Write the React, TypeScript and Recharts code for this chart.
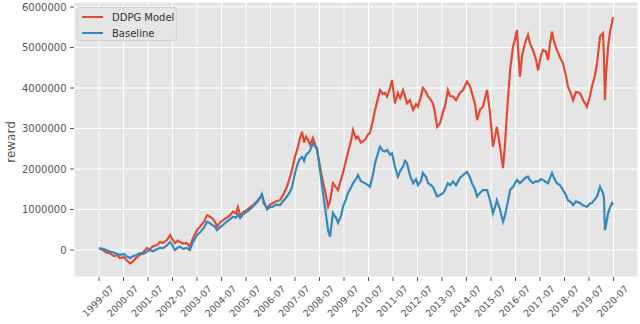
import { LineChart, Line, XAxis, YAxis, CartesianGrid, Legend } from 'recharts';

// Cumulative reward, DDPG agent vs buy-and-hold baseline (~6-week steps)

const RED = '#E24A33';
const BLUE = '#348ABD';
const FONT = '"DejaVu Sans", Verdana, sans-serif';

// decimal years
const years = [
  1999.50, 1999.66, 1999.79, 1999.95, 2000.11, 2000.23, 2000.36, 2000.52,
  2000.64, 2000.77, 2000.89, 2001.01, 2001.17, 2001.30, 2001.46,
  2001.58, 2001.70, 2001.87, 2001.99, 2002.11, 2002.28, 2002.40, 2002.48,
  2002.60, 2002.72, 2002.81, 2002.93, 2003.09, 2003.21, 2003.34, 2003.50,
  2003.62, 2003.79, 2003.91, 2004.03, 2004.11, 2004.23, 2004.32, 2004.44,
  2004.56, 2004.72, 2004.85, 2004.97, 2005.09, 2005.17, 2005.26, 2005.38,
  2005.54, 2005.66, 2005.79, 2005.95, 2006.07, 2006.15, 2006.23,
  2006.36, 2006.48, 2006.60, 2006.72, 2006.89, 2007.01, 2007.17,
  2007.30, 2007.38, 2007.50, 2007.62, 2007.70, 2007.79, 2007.87, 2007.95,
  2008.03, 2008.11, 2008.23, 2008.32, 2008.40, 2008.52, 2008.60, 2008.72,
  2008.85, 2008.93, 2009.05, 2009.17, 2009.26, 2009.38, 2009.46, 2009.58,
  2009.66, 2009.79, 2009.87, 2009.99, 2010.07, 2010.19, 2010.36, 2010.48,
  2010.56, 2010.68, 2010.77, 2010.89, 2010.97, 2011.09, 2011.17, 2011.26,
  2011.38, 2011.46, 2011.58, 2011.70, 2011.79, 2011.91, 2011.99, 2012.07,
  2012.19, 2012.32, 2012.44, 2012.52, 2012.64, 2012.72, 2012.85, 2012.93,
  2013.05, 2013.13, 2013.21, 2013.30, 2013.42, 2013.54, 2013.62, 2013.74,
  2013.83, 2013.95, 2014.07, 2014.23, 2014.36, 2014.52, 2014.64, 2014.72,
  2014.85, 2014.93, 2015.05, 2015.17, 2015.34, 2015.46, 2015.58,
  2015.66, 2015.74, 2015.87, 2015.99, 2016.07, 2016.15, 2016.28,
  2016.40, 2016.48, 2016.56, 2016.68, 2016.77, 2016.89, 2017.01, 2017.09,
  2017.21, 2017.34, 2017.42, 2017.54, 2017.62, 2017.74, 2017.83, 2017.91,
  2017.99, 2018.07, 2018.19, 2018.32, 2018.44, 2018.56, 2018.64,
  2018.77, 2018.85, 2018.97, 2019.13, 2019.26, 2019.42, 2019.54,
  2019.62, 2019.74, 2019.83, 2019.95, 2020.07,
  2020.11, 2020.15, 2020.19, 2020.28, 2020.36, 2020.44, 2020.48,
];

const ddpg = [
  40000, 0, -60000, -80000, -150000, -130000, -200000, -180000,
  -260000, -330000, -280000, -200000, -120000, -60000, 50000,
  20000, 90000, 120000, 200000, 170000, 250000, 370000, 280000,
  170000, 230000, 200000, 160000, 170000, 80000, 300000, 490000,
  575000, 700000, 860000, 820000, 790000, 700000, 575000, 680000,
  740000, 800000, 860000, 950000, 900000, 1060000, 860000, 930000,
  990000, 1050000, 1110000, 1200000, 1300000, 1360000, 1150000,
  1040000, 1120000, 1160000, 1200000, 1230000, 1350000, 1560000,
  1810000, 1980000, 2300000, 2550000, 2750000, 2920000, 2650000, 2800000,
  2720000, 2600000, 2770000, 2600000, 2470000, 2060000, 1800000, 1480000,
  1070000, 1200000, 1650000, 1550000, 1480000, 1750000, 1900000, 2200000,
  2400000, 2700000, 2960000, 2750000, 2800000, 2650000, 2720000, 2850000,
  2890000, 3200000, 3460000, 3750000, 3950000, 3850000, 3880000, 3790000,
  4000000, 4200000, 3620000, 3880000, 3750000, 3950000, 3800000, 3620000,
  3700000, 3460000, 3600000, 3540000, 3800000, 4000000, 3900000, 3790000,
  3700000, 3620000, 3400000, 3040000, 3130000, 3400000, 3540000, 3950000,
  3800000, 3790000, 3700000, 3880000, 3950000, 4160000, 4050000, 3880000,
  3600000, 3210000, 3460000, 3540000, 3950000, 3380000, 2550000,
  2800000, 3040000, 2550000, 2020000, 2600000, 3380000, 4440000,
  5020000, 5200000, 5430000, 4280000, 4800000, 5110000, 5310000, 5100000,
  4940000, 4700000, 4440000, 4800000, 4940000, 4900000, 4690000, 5100000,
  5390000, 5150000, 4940000, 4750000, 4610000, 4300000, 4030000,
  3850000, 3700000, 3900000, 3880000, 3700000, 3540000, 3800000,
  4030000, 4300000, 4610000, 5270000, 5350000,
  4800000, 3700000, 4300000, 5020000, 5400000, 5600000, 5750000,
];

const baseline = [
  40000, 30000, 0, -40000, -60000, -100000, -120000, -100000,
  -160000, -200000, -150000, -130000, -80000, -100000, -40000,
  0, -30000, 20000, 60000, 40000, 120000, 200000, 130000,
  0, 60000, 80000, 30000, 50000, 0, 200000, 370000,
  430000, 560000, 700000, 660000, 620000, 580000, 490000, 560000,
  620000, 700000, 760000, 820000, 800000, 880000, 790000, 880000,
  950000, 1000000, 1080000, 1180000, 1280000, 1380000, 1200000,
  1000000, 1060000, 1070000, 1120000, 1110000, 1200000, 1320000,
  1440000, 1560000, 1900000, 2150000, 2250000, 2300000, 2200000, 2350000,
  2390000, 2450000, 2640000, 2550000, 2520000, 1980000, 1600000, 1070000,
  490000, 330000, 910000, 800000, 670000, 850000, 1070000, 1250000,
  1410000, 1550000, 1650000, 1750000, 1850000, 1700000, 1650000, 1600000,
  1560000, 1850000, 2150000, 2400000, 2550000, 2450000, 2430000, 2470000,
  2350000, 2390000, 2060000, 1810000, 1950000, 2060000, 2200000, 2150000,
  1850000, 1650000, 1750000, 1600000, 1700000, 1900000, 1800000, 1650000,
  1600000, 1560000, 1450000, 1320000, 1360000, 1400000, 1480000, 1650000,
  1600000, 1690000, 1600000, 1780000, 1850000, 1930000, 1800000, 1650000,
  1500000, 1320000, 1410000, 1480000, 1480000, 1230000, 910000,
  1050000, 1230000, 990000, 700000, 850000, 1070000, 1480000,
  1560000, 1650000, 1730000, 1650000, 1700000, 1780000, 1810000, 1720000,
  1650000, 1700000, 1690000, 1750000, 1730000, 1680000, 1650000, 1780000,
  1900000, 1780000, 1650000, 1600000, 1480000, 1350000, 1230000,
  1180000, 1110000, 1200000, 1160000, 1100000, 1070000, 1150000,
  1160000, 1250000, 1320000, 1560000, 1410000,
  1300000, 490000, 600000, 910000, 1050000, 1160000, 1110000,
];

const xTicks = [
  1999.5, 2000.5, 2001.5, 2002.5, 2003.5, 2004.5, 2005.5, 2006.5, 2007.5, 2008.5, 2009.5,
  2010.5, 2011.5, 2012.5, 2013.5, 2014.5, 2015.5, 2016.5, 2017.5, 2018.5, 2019.5, 2020.5,
];
const xTickLabels = [
  '1999-07', '2000-07', '2001-07', '2002-07', '2003-07', '2004-07', '2005-07', '2006-07',
  '2007-07', '2008-07', '2009-07', '2010-07', '2011-07', '2012-07', '2013-07', '2014-07',
  '2015-07', '2016-07', '2017-07', '2018-07', '2019-07', '2020-07',
];
const yTicks = [0, 1000000, 2000000, 3000000, 4000000, 5000000, 6000000];

const seriesNames = ['DDPG Model', 'Baseline'];

const data = years.map((t, i) => ({ t, ddpg: ddpg[i], baseline: baseline[i] }));

// rotated date label, centred under the tick like matplotlib's rotation=45
function XTick({ x, y, payload }: any) {
  const label = xTickLabels[xTicks.indexOf(payload.value)] ?? '';
  const cx = x - 1;
  const cy = y + 18;
  return (
    <text
      x={cx} y={cy} transform={`rotate(-45 ${cx} ${cy})`}
      textAnchor="middle" dominantBaseline="central"
      fill="#555" fontSize={9.5} fontFamily={FONT}
    >
      {label}
    </text>
  );
}

function LegendBox() {
  const row = (color: string, name: string) => (
    <div style={{ display: 'flex', alignItems: 'center', height: 16 }}>
      <span style={{ display: 'inline-block', width: 21, height: 1.6, background: color, marginLeft: 4, marginRight: 9 }} />
      <span style={{ fontSize: 10, color: '#333', fontFamily: FONT }}>{name}</span>
    </div>
  );
  return (
    <div style={{
      width: 100, height: 34, boxSizing: 'border-box', border: '1px solid #d0d0d0',
      borderRadius: 3, background: '#e5e5e5', paddingTop: 1,
    }}>
      {row(RED, seriesNames[0])}
      {row(BLUE, seriesNames[1])}
    </div>
  );
}

export default function App() {
  return (
    <div style={{ position: 'fixed', left: 0, top: 0, width: 640, height: 324, background: '#fff' }}>
      <LineChart width={640} height={324} data={data} margin={{ top: 2, right: 2, bottom: 0, left: 0 }}>
        <CartesianGrid fill="#E5E5E5" stroke="#FFFFFF" strokeWidth={1} />
        <XAxis
          dataKey="t" type="number" domain={[1998.48, 2021.5]} allowDataOverflow
          ticks={xTicks} interval={0} height={47}
          axisLine={false} tickLine={{ stroke: '#555' }} tickSize={4} tickMargin={2}
          tick={<XTick />}
        />
        <YAxis
          type="number" domain={[-666700, 6123500]} allowDataOverflow
          ticks={yTicks} interval={0} width={74}
          axisLine={false} tickLine={{ stroke: '#555' }} tickSize={4} tickMargin={3.5}
          tick={{ fill: '#555', fontSize: 10, fontFamily: FONT }}
          label={{
            content: () => (
              <text x={11} y={142} transform="rotate(-90 11 142)" textAnchor="middle"
                dominantBaseline="central" fill="#555" fontSize={12} fontFamily={FONT}>
                reward
              </text>
            ),
          }}
        />
        <Legend
          layout="horizontal" verticalAlign="middle" align="center"
          wrapperStyle={{ left: 77, top: 7, width: 100, height: 34 }}
          content={() => <LegendBox />}
        />
        <Line dataKey="ddpg" name={seriesNames[0]} type="linear" stroke={RED} strokeWidth={2.2}
          strokeLinejoin="miter" dot={false} isAnimationActive={false} />
        <Line dataKey="baseline" name={seriesNames[1]} type="linear" stroke={BLUE} strokeWidth={2.2}
          strokeLinejoin="miter" dot={false} isAnimationActive={false} />
      </LineChart>
    </div>
  );
}
